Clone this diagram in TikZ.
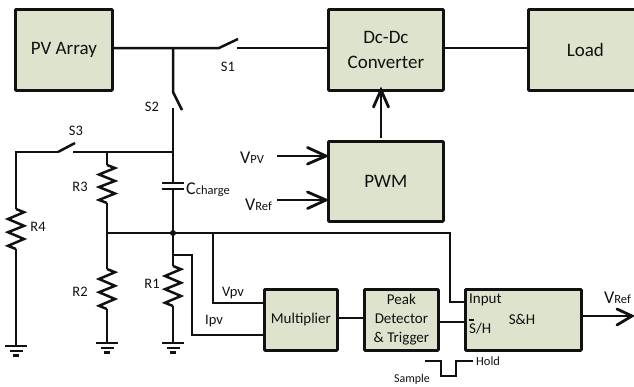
\documentclass[tikz,border=0pt]{standalone}
\usepackage{fontspec}
\setmainfont{Carlito}
\usetikzlibrary{calc}
\definecolor{boxfill}{HTML}{DDE3CD}
\definecolor{ink}{HTML}{111111}
\tikzset{
  block/.style={draw=ink,fill=boxfill,line width=2.8pt,rounded corners=0.8pt,inner sep=0pt,anchor=north west,align=center,text=ink,font=\fontsize{19}{25}\selectfont},
  smallblock/.style={block,font=\fontsize{15}{19}\selectfont},
  wire/.style={draw=ink,line width=2.5pt},
  thinwire/.style={draw=ink,line width=2.1pt},
  lab/.style={inner sep=0pt,text=ink,font=\fontsize{14.5}{16}\selectfont},
  biglab/.style={inner sep=0pt,text=ink,font=\fontsize{18}{20}\selectfont},
  openhead/.style={draw=ink,line width=2.8pt,line cap=round}
}
\newcommand{\sub}[1]{{\fontsize{12.5}{14}\selectfont #1}}
\begin{document}
\begin{tikzpicture}[x=1pt,y=-1pt]
\useasboundingbox (0,0) rectangle (634,386);
% blocks
\node[block,minimum width=97pt,minimum height=81pt] (pv) at (14,8) {PV Array};
\node[block,minimum width=115pt,minimum height=81pt] (dc) at (327,8) {Dc-Dc\\Converter};
\begin{scope}
\clip (0,0) rectangle (634,386);
\node[block,minimum width=114pt,minimum height=81pt] (load) at (527,8) {Load};
\end{scope}
\node[block,minimum width=115pt,minimum height=80pt] (pwm) at (327,140) {PWM};
\node[smallblock,minimum width=73pt,minimum height=61pt] (mult) at (263,288) {Multiplier};
\node[smallblock,minimum width=74pt,minimum height=61pt] (peak) at (363,288) {Peak\\Detector\\\& Trigger};
\node[smallblock,minimum width=116pt,minimum height=61pt] (sh) at (464,288) {};
\node[lab,font=\fontsize{15}{16}\selectfont] (shname) at (522,319) {S\&H};
\node[lab,anchor=west,font=\fontsize{15}{16}\selectfont] (shin) at (469,300) {Input};
\node[lab,anchor=west,font=\fontsize{15}{16}\selectfont] (shsel) at (469,329) {S/H};
\draw[draw=ink,line width=1.5pt] (468.5,320) -- (474,320);
% coordinates
\coordinate (j1) at (173,48);
\coordinate (j2) at (173,152);
\coordinate (j3) at (173,233);
\coordinate (s1a) at (219,48);
\coordinate (s1b) at (237,48);
\coordinate (s2a) at (173,92);
\coordinate (s2b) at (173,108);
\coordinate (s3a) at (58,152);
\coordinate (s3b) at (73,152);
\coordinate (capt) at (173,183);
\coordinate (capb) at (173,189);
\coordinate (r3t) at (107,165);
\coordinate (r3b) at (107,203);
\coordinate (r2t) at (107,269);
\coordinate (r2b) at (107,309);
\coordinate (r1t) at (173,266);
\coordinate (r1b) at (173,306);
\coordinate (r4t) at (16,209);
\coordinate (r4b) at (16,249);
\coordinate (g4) at (16,346);
\coordinate (g2) at (107,343);
\coordinate (g1) at (173,343);
% main line and switches
\draw[wire] (pv.east |- j1) -- (s1a) -- ++(19,-9);
\draw[wire] (s1b) -- (dc.west |- s1b);
\draw[wire] (dc.east |- j1) -- (load.west |- j1);
\draw[wire] (j1) -- (s2a) -- ++(9,18);
\draw[wire] (s2b) -- (capt);
\draw[wire] (j2) -- (s3b);
\draw[wire] (s3a) -- ++(17,-9);
\draw[wire] (s3a) -- (16,152) -- (r4t);
\draw[wire] (107,152) -- (r3t);
% capacitor
\draw[wire] (162,183) -- (184,183);
\draw[wire] (162,189) -- (184,189);
\draw[wire] (capb) -- (r1t);
% resistors
\foreach \a/\b in {r3t/r3b,r2t/r2b,r1t/r1b,r4t/r4b}{
  \draw[wire,line join=miter] (\a) -- ($(\a)!0.08!(\b)+(8,0)$) -- ($(\a)!0.25!(\b)+(-8,0)$) -- ($(\a)!0.42!(\b)+(8,0)$) -- ($(\a)!0.58!(\b)+(-8,0)$) -- ($(\a)!0.75!(\b)+(8,0)$) -- ($(\a)!0.92!(\b)+(-8,0)$) -- (\b);
}
% lower wires
\draw[wire] (r3b) -- (r2t);
\draw[wire] (r2b) -- (g2);
\draw[wire] (r1b) -- (g1);
\draw[wire] (r4b) -- (g4);
\draw[wire] (107,233) -- (450,233) -- (450,302) -- (sh.west |- 450,302);
\fill[ink] (j3) circle (3pt);
\draw[thinwire] (213,233) -- (213,303) -- (mult.west |- 213,303);
\draw[thinwire] (173,255) -- (192,255) -- (192,335) -- (mult.west |- 192,335);
\draw[thinwire] (mult.east |- 336,318) -- (peak.west |- 336,318);
\draw[thinwire] (peak.east |- 437,322) -- (sh.west |- 437,322);
% grounds
\foreach \g in {g4,g2,g1}{
  \draw[wire] ($(\g)+(-11,0)$) -- ($(\g)+(11,0)$);
  \draw[wire] ($(\g)+(-6.5,5)$) -- ($(\g)+(6.5,5)$);
  \draw[wire] ($(\g)+(-3,9.5)$) -- ($(\g)+(3,9.5)$);
}
% arrows
\coordinate (vpvs) at (277,156);
\coordinate (vrefs) at (277,200);
\coordinate (pwmtop) at (381,138);
\coordinate (dcbot) at (381,90);
\coordinate (outs) at (580,316);
\coordinate (oute) at (632,316);
\draw[wire] (pwmtop) -- (dcbot);
\draw[openhead,line join=miter] (373.5,107) -- (dcbot) -- (388.5,107);
\draw[wire] (vpvs) -- (pwm.west |- vpvs);
\draw[openhead] (307.5,147.5) -- (326,156) -- (307.5,164);
\draw[wire] (vrefs) -- (pwm.west |- vrefs);
\draw[openhead] (307.5,192) -- (326,200) -- (307.5,208.5);
\draw[wire] (outs) -- (oute);
\draw[openhead] (617,309) -- (632,316) -- (617,325);
% sample/hold pulse
\coordinate (pa) at (425,361);
\coordinate (pb) at (473,361);
\draw[draw=ink,line width=1.7pt] (pa) -- (441,361) -- (441,376) -- (456,376) -- (456,361) -- (pb);
% labels
\node[lab] (ls1) at (228,67) {S1};
\node[lab] (ls2) at (152,107) {S2};
\node[lab] (ls3) at (76,131) {S3};
\node[lab] (lr3) at (80,187) {R3};
\node[lab] (lr4) at (38,227) {R4};
\node[lab] (lr2) at (80,292) {R2};
\node[lab] (lr1) at (152,284) {R1};
\node[lab] (lvpv) at (233,293) {Vpv};
\node[lab] (lipv) at (214,321) {Ipv};
\node[biglab,anchor=west] (lc) at (186,190) {C\sub{charge}};
\node[biglab,anchor=west] (vp) at (240,158) {V\sub{PV}};
\node[biglab,anchor=west] (vr) at (245,205) {V\sub{Ref}};
\node[biglab,anchor=west] (vo) at (604,298) {V\sub{Ref}};
\node[lab,anchor=west,font=\fontsize{12.5}{14}\selectfont] (lh) at (476,361) {Hold};
\node[lab,font=\fontsize{12}{14}\selectfont] (ls) at (412,379) {Sample};
\end{tikzpicture}
\end{document}
